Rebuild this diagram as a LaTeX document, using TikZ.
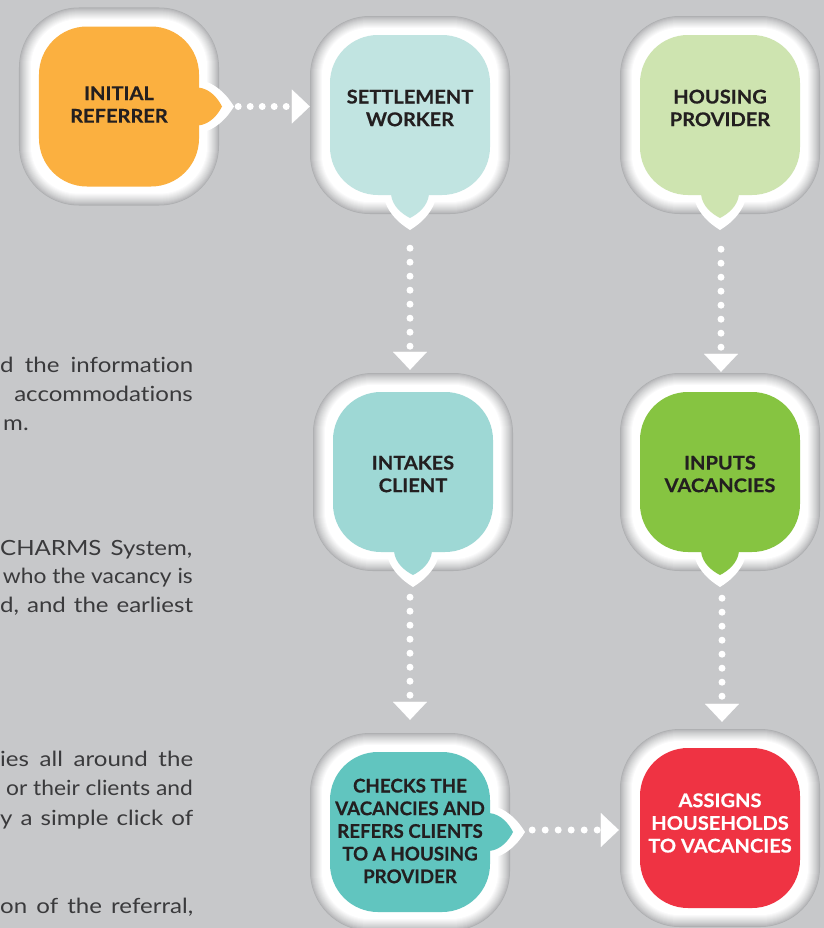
\documentclass[tikz,border=0pt]{standalone}
\usepackage{fontspec}
\setmainfont{Lato}
\newfontfamily\labelfont[FakeStretch=1.06,Ligatures=NoCommon,BoldFeatures={FakeBold=0.4}]{Lato}
\newfontfamily\labelfontn[FakeStretch=0.99,Ligatures=NoCommon,BoldFeatures={FakeBold=0.4}]{Lato}
\newfontfamily\bodyfont[FakeStretch=1.15,Ligatures=NoCommon]{Lato}
\newfontfamily\bodyfontn[FakeStretch=1.09,Ligatures=NoCommon]{Lato}
\usetikzlibrary{arrows.meta,calc}
\definecolor{bg}{HTML}{C7C8CA}
\definecolor{rim}{HTML}{AEAFB1}
\definecolor{ink}{HTML}{231F20}
\definecolor{bodyink}{HTML}{3A3A3C}
\definecolor{cOrange}{HTML}{FBB040}
\definecolor{cTealLight}{HTML}{C1E4E1}
\definecolor{cGreenLight}{HTML}{CEE4B0}
\definecolor{cTeal}{HTML}{9ED8D5}
\definecolor{cGreen}{HTML}{86C441}
\definecolor{cTealDark}{HTML}{61C5BF}
\definecolor{cRed}{HTML}{EF3343}

\newcommand\bubbleframe[3]{%
  \node[framebox] (#1) at (#2,#3) {};
  \foreach \k in {1,...,12}{%
    \pgfmathtruncatemacro\mixv{round(100*(\k/12)^0.8)}%
    \pgfmathsetmacro\rr{60-\k}%
    \fill[white!\mixv!rim, rounded corners=\rr bp] ($(#1.north west)+(\k,\k)$) rectangle ($(#1.south east)+(-\k,-\k)$);
  }}
\newcommand\tailoutR[1]{\fill[white, shift={(#1.center)}] (76,-27) .. controls (96,-26) and (109,-10) .. (115,0) .. controls (109,10) and (96,26) .. (76,27) -- cycle;}
\newcommand\tailR[2]{\fill[#2, shift={(#1.center)}] (70,-19) -- (79,-19) .. controls (91,-18) and (99,-8) .. (103,0) .. controls (99,8) and (91,18) .. (79,19) -- (70,19) -- cycle;}
\newcommand\tailoutD[1]{\fill[white, shift={(#1.center)}] (-27,76) .. controls (-26,96) and (-10,109) .. (0,115) .. controls (10,109) and (26,96) .. (27,76) -- cycle;}
\newcommand\tailD[2]{\fill[#2, shift={(#1.center)}] (-19,70) -- (-19,79) .. controls (-18,91) and (-8,99) .. (0,103) .. controls (8,99) and (18,91) .. (19,79) -- (19,70) -- cycle;}

\begin{document}
\begin{tikzpicture}[x=1bp,y=-1bp,
  framebox/.style={rectangle, rounded corners=60bp, minimum width=200bp, minimum height=198bp, inner sep=0pt, fill=rim},
  bubble/.style={rectangle, rounded corners=48bp, minimum width=160bp, minimum height=160bp, inner sep=0pt, fill=#1},
  labeltext/.style={font=\labelfont\bfseries\fontsize{19}{22.75}\selectfont, align=center, text=ink, inner sep=0pt},
  bodytext/.style={font=\bodyfont\fontsize{21}{29}\selectfont, text=bodyink, inner sep=0pt, anchor=base west},
  bodytextn/.style={bodytext, font=\bodyfontn\fontsize{21}{29}\selectfont, anchor=base east},
  dotH/.style={white, line width=7bp, line cap=round, dash pattern=on 0bp off 12bp, -{Triangle[width=34bp,length=18bp,line width=0.1pt]}},
  dotH2/.style={dotH, dash pattern=on 0bp off 13bp},
  dotV/.style={dotH, dash pattern=on 0bp off 14bp}]
\useasboundingbox (0,0) rectangle (824,928);
\fill[bg] (0,0) rectangle (824,928);
\clip (0,0) rectangle (824,928);

% left paragraph fragments
\node[bodytext] (p1a) at (0,372) {\hbox to 193bp{d\hfill the\hfill information}};
\node[bodytext, anchor=base east] (p1b) at (193,401.7) {accommodations};
\node[bodytext, anchor=base west] (p1c) at (3,430) {m.};
\node[bodytext] (p2a) at (0,555) {\hbox to 192bp{CHARMS\hfill System,}};
\node[bodytextn] (p2b) at (193,583.5) {who the vacancy is};
\node[bodytext] (p2c) at (0,612.5) {\hbox to 193bp{d,\hfill and\hfill the\hfill earliest}};
\node[bodytext] (p3a) at (0,766) {\hbox to 193bp{ies\hfill all\hfill around\hfill the}};
\node[bodytextn] (p3b) at (193,795.5) {or their clients and};
\node[bodytext] (p3c) at (0,825) {\hbox to 193bp{y\hfill a\hfill simple\hfill click\hfill of}};
\node[bodytext] (p4a) at (0,913.5) {\hbox to 193bp{on\hfill of\hfill the\hfill referral,}};

% 1 initial referrer
\bubbleframe{f1}{119}{106.5}
\tailoutR{f1}
\node[bubble=cOrange] (b1) at (f1.center) {};
\tailR{b1}{cOrange}
\node[labeltext] (l1) at ($(b1.center)+(0,-2)$) {INITIAL\\REFERRER};

% 2 settlement worker
\bubbleframe{f2}{410}{115}
\tailoutD{f2}
\node[bubble=cTealLight] (b2) at (f2.center) {};
\tailD{b2}{cTealLight}
\node[labeltext] (l2) at ($(b2.center)+(0,-7)$) {SETTLEMENT\\WORKER};

% 3 housing provider
\bubbleframe{f3}{720}{115}
\tailoutD{f3}
\node[bubble=cGreenLight] (b3) at (f3.center) {};
\tailD{b3}{cGreenLight}
\node[labeltext] (l3) at ($(b3.center)+(0,-7)$) {HOUSING\\PROVIDER};

% 4 intakes client
\bubbleframe{f4}{413}{472}
\tailoutD{f4}
\node[bubble=cTeal] (b4) at (f4.center) {};
\tailD{b4}{cTeal}
\node[labeltext] (l4) at ($(b4.center)+(0,2)$) {INTAKES\\CLIENT};

% 5 inputs vacancies
\bubbleframe{f5}{720}{472}
\tailoutD{f5}
\node[bubble=cGreen] (b5) at (f5.center) {};
\tailD{b5}{cGreen}
\node[labeltext] (l5) at ($(b5.center)+(0,2)$) {INPUTS\\VACANCIES};

% 6 checks the vacancies
\bubbleframe{f6}{410}{832}
\tailoutR{f6}
\node[bubble=cTealDark] (b6) at (f6.center) {};
\tailR{b6}{cTealDark}
\node[labeltext, font=\labelfontn\bfseries\fontsize{19}{22.75}\selectfont] (l6) at ($(b6.center)+(0,-1)$) {CHECKS THE\\VACANCIES AND\\REFERS CLIENTS\\TO A HOUSING\\PROVIDER};

% 7 assigns households
\bubbleframe{f7}{720}{828}
\node[bubble=cRed] (b7) at (f7.center) {};
\node[labeltext, text=white] (l7) at ($(b7.center)+(0,-5)$) {ASSIGNS\\HOUSEHOLDS\\TO VACANCIES};

% connectors
\coordinate (s1) at ($(b1.east)+(39,0)$);
\draw[dotH] (s1) -- (f2.west |- s1);
\coordinate (s2) at ($(b2.south)+(0,53)$);
\draw[dotV] (s2) -- ($(s2 |- f4.north)+(0,-3)$);
\coordinate (s3) at ($(b3.south)+(1,54)$);
\draw[dotV] (s3) -- ($(s3 |- f5.north)+(0,-1)$);
\coordinate (s4) at ($(b4.south)+(-3,45)$);
\draw[dotV] (s4) -- ($(s4 |- f6.north)+(0,-13)$);
\coordinate (s5) at ($(b5.south)+(2,46)$);
\draw[dotV] (s5) -- ($(s5 |- f7.north)+(0,-7)$);
\coordinate (s6) at ($(b6.east)+(42,-2)$);
\draw[dotH2] (s6) -- ($(f7.west |- s6)+(-1,0)$);
\end{tikzpicture}
\end{document}
